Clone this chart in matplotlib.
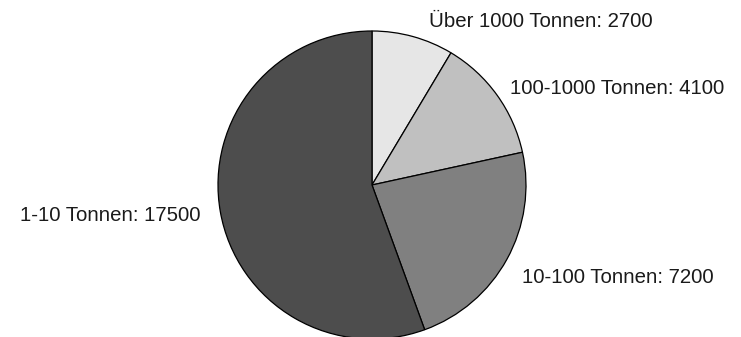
import matplotlib
matplotlib.use("Agg")
import matplotlib.pyplot as plt

plt.rcParams['font.family'] = ['Liberation Sans', 'DejaVu Sans']

# data
categories = ["Über 1000 Tonnen", "100-1000 Tonnen", "10-100 Tonnen", "1-10 Tonnen"]
values = [2700, 4100, 7200, 17500]
colors = ["#e6e6e6", "#c0c0c0", "#808080", "#4d4d4d"]

labels = [f"{c}: {v}" for c, v in zip(categories, values)]

fig = plt.figure(figsize=(7.41, 3.37), dpi=100)
ax = fig.add_axes([218 / 741, -2 / 337, 308 / 741, 308 / 337])

wedges, texts = ax.pie(values, labels=labels, colors=colors, startangle=90,
                       counterclock=False, labeldistance=1.1,
                       wedgeprops={'edgecolor': 'black', 'linewidth': 0.9},
                       textprops={'fontsize': 14.7, 'color': '#1a1a1a'})
ax.set_xlim(-1, 1)
ax.set_ylim(-1, 1)
ax.set_aspect('equal')

# small nudges to match label placement
x, y = texts[0].get_position()
texts[0].set_position((x + 0.08, y))
x, y = texts[1].get_position()
texts[1].set_position((x, y - 0.015))
x, y = texts[2].get_position()
texts[2].set_position((x + 0.01, y - 0.07))
x, y = texts[3].get_position()
texts[3].set_position((x - 0.03, y - 0.01))

fig.savefig("out.png", dpi=100)
